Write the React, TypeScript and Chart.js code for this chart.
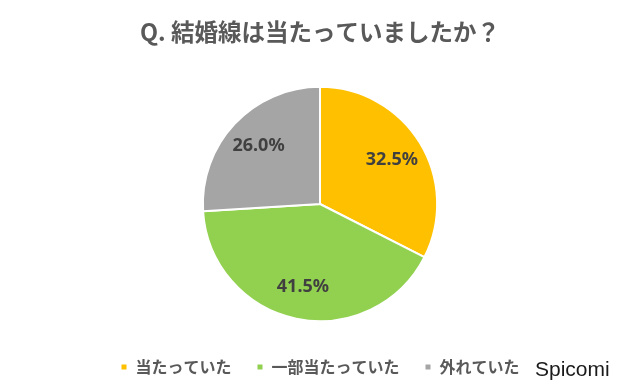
import React, { useEffect, useRef } from "react";
import { Chart, registerables } from "chart.js";

Chart.register(...registerables);

const titleText = "Q. 結婚線は当たっていましたか？";
const categories = ["当たっていた", "一部当たっていた", "外れていた"];
const values = [32.5, 41.5, 26.0];
const colors = ["#FFC000", "#92D050", "#A5A5A5"];
const brandText = "Spicomi";

const CJK = '"Noto Sans CJK JP", "Noto Sans", sans-serif';

const labelPlugin = {
  id: "sliceLabels",
  afterDatasetsDraw(chart: any) {
    const { ctx } = chart;
    const meta = chart.getDatasetMeta(0);
    ctx.save();
    ctx.font = 'bold 18px "Noto Sans", "DejaVu Sans", sans-serif';
    ctx.fillStyle = "#404040";
    ctx.textAlign = "center";
    ctx.textBaseline = "middle";
    meta.data.forEach((arc: any, i: number) => {
      const { x, y, startAngle, endAngle, outerRadius } = arc.getProps(
        ["x", "y", "startAngle", "endAngle", "outerRadius"],
        true
      );
      const mid = (startAngle + endAngle) / 2;
      const r = outerRadius * 0.72;
      ctx.fillText(values[i].toFixed(1) + "%", x + Math.cos(mid) * r, y + Math.sin(mid) * r);
    });
    ctx.restore();
  },
};

const brandPlugin = {
  id: "brand",
  afterDraw(chart: any) {
    const { ctx } = chart;
    ctx.save();
    ctx.font = '21px "Liberation Sans", Arial, sans-serif';
    ctx.fillStyle = "#1a1a1a";
    ctx.textAlign = "left";
    ctx.textBaseline = "alphabetic";
    ctx.fillText(brandText, 535, 376);
    ctx.restore();
  },
};

export default function App() {
  const ref = useRef<HTMLCanvasElement | null>(null);
  useEffect(() => {
    document.body.style.margin = "0";
    const canvas = ref.current!;
    const chart = new Chart(canvas, {
      type: "pie",
      data: {
        labels: categories,
        datasets: [
          {
            data: values,
            backgroundColor: colors,
            borderColor: "#ffffff",
            borderWidth: 2,
            radius: "90.8%",
          } as any,
        ],
      },
      options: {
        responsive: false,
        animation: false,
        layout: { padding: { top: 13, bottom: 7, left: 0, right: 0 } },
        plugins: {
          title: {
            display: true,
            text: titleText,
            color: "#595959",
            font: { family: CJK, size: 23.5, weight: "bold" },
            padding: { top: 5, bottom: 27.8 },
          },
          legend: {
            display: true,
            position: "bottom",
            labels: {
              boxWidth: 7,
              boxHeight: 7,
              padding: 25,
              color: "#595959",
              font: { family: CJK, size: 16, weight: "bold" },
            },
          },
          tooltip: { enabled: false },
        },
      } as any,
      plugins: [labelPlugin, brandPlugin],
    });
    return () => chart.destroy();
  }, []);
  return (
    <div style={{ width: 640, height: 392, background: "#ffffff" }}>
      <canvas ref={ref} width={640} height={392} style={{ display: "block" }} />
    </div>
  );
}
